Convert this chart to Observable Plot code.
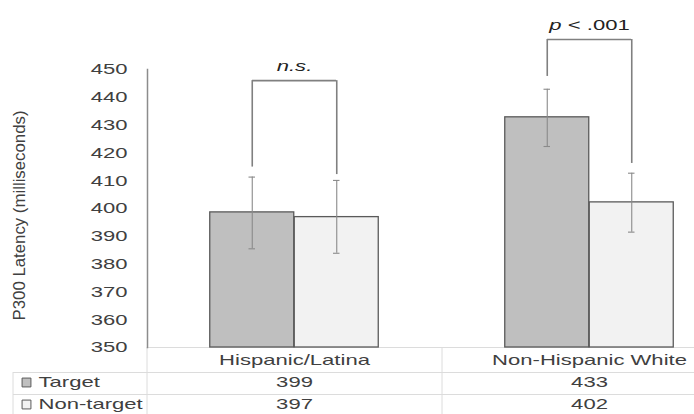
<!DOCTYPE html>
<html>
<head>
<meta charset="utf-8">
<script src="https://cdn.jsdelivr.net/npm/d3@7"></script>
<script src="https://cdn.jsdelivr.net/npm/@observablehq/plot@0.6"></script>
<style>
html, body { margin: 0; padding: 0; background: #fff; overflow: hidden; }
</style>
</head>
<body>
<div id="chart"></div>
<script>
// ---- data ----
const categories = ["Hispanic/Latina", "Non-Hispanic White"];
const seriesNames = ["Target", "Non-target"];
const targetMeans = [398.6, 432.8];
const nonTargetMeans = [396.9, 402.2];
const targetErrLow = [385.5, 422.3];
const targetErrHigh = [411.3, 442.9];
const nonTargetErrLow = [383.9, 391.5];
const nonTargetErrHigh = [410.1, 412.7];
const bracketTop = [446.0, 460.8];
const bracketLeftEnd = [414.9, 447.5];
const bracketRightEnd = [412.2, 416.2];
const bracketLabels = ["n.s.", "p < .001"];
const yTicks = [350, 360, 370, 380, 390, 400, 410, 420, 430, 440, 450];
const yLabel = "P300 Latency (milliseconds)";

// ---- tables built from the arrays ----
const targetRows = categories.map((c, i) => ({category: c, mean: targetMeans[i], lo: targetErrLow[i], hi: targetErrHigh[i]}));
const nonTargetRows = categories.map((c, i) => ({category: c, mean: nonTargetMeans[i], lo: nonTargetErrLow[i], hi: nonTargetErrHigh[i]}));
const brackets = categories.map((c, i) => ({category: c, top: bracketTop[i], left: bracketLeftEnd[i], right: bracketRightEnd[i], label: bracketLabels[i]}));
const fmt = d3.format(".0f");
const base = yTicks[0];

const half = 42.25;          // offset of each bar from the band centre
const colT = "#bfbfbf", colN = "#f2f2f2", barStroke = "#5a5a5a";
const errCol = "#8a8a8a", brCol = "#808080", gridCol = "#dcdcdc";

const svg = Plot.plot({
  width: 694,
  height: 414,
  marginLeft: 147,
  marginTop: 69,
  marginBottom: 67,
  marginRight: 0,
  style: {fontFamily: "'Liberation Sans', Arial, sans-serif", fontSize: "15px", color: "#404040", background: "white"},
  x: {type: "band", domain: categories, range: [147, 737], paddingInner: 0.7136, paddingOuter: 0.3568, axis: null},
  y: {domain: [350, 450], range: [347, 69], axis: null},
  marks: [
    // data table grid
    Plot.ruleY([base], {stroke: gridCol}),
    Plot.ruleY([base], {stroke: gridCol, dy: 25, insetLeft: -134}),
    Plot.ruleY([base], {stroke: gridCol, dy: 47, insetLeft: -134}),
    Plot.ruleX(categories, {x: d => d, dx: -147.5, insetTop: 278, insetBottom: -67, stroke: gridCol}),
    Plot.ruleX([categories[0]], {x: d => d, dx: -281.5, insetTop: 303, insetBottom: -67, stroke: gridCol}),
    // y axis
    Plot.frame({anchor: "left", stroke: "#8c8c8c", strokeWidth: 1.5}),
    Plot.axisY({ticks: yTicks, tickSize: 0, tickPadding: 20, label: null, tickFormat: d3.format("d")}),
    Plot.text([yLabel], {frameAnchor: "left", textAnchor: "middle", lineAnchor: "middle", dx: -128, dy: 7, rotate: -90, fontSize: 16}),
    // bars
    Plot.barY(targetRows, {x: "category", y1: () => base, y2: "mean", dx: -half, fill: colT, stroke: barStroke, strokeWidth: 1.3}),
    Plot.barY(nonTargetRows, {x: "category", y1: () => base, y2: "mean", dx: half, fill: colN, stroke: barStroke, strokeWidth: 1.3}),
    // error bars
    Plot.ruleX(targetRows, {x: "category", y1: "lo", y2: "hi", dx: -half, stroke: errCol, strokeWidth: 1.1}),
    Plot.ruleX(nonTargetRows, {x: "category", y1: "lo", y2: "hi", dx: half, stroke: errCol, strokeWidth: 1.1}),
    Plot.tickY(targetRows, {x: "category", y: "hi", dx: -half, insetLeft: 38.75, insetRight: 38.75, stroke: errCol, strokeWidth: 1.1}),
    Plot.tickY(targetRows, {x: "category", y: "lo", dx: -half, insetLeft: 38.75, insetRight: 38.75, stroke: errCol, strokeWidth: 1.1}),
    Plot.tickY(nonTargetRows, {x: "category", y: "hi", dx: half, insetLeft: 38.75, insetRight: 38.75, stroke: errCol, strokeWidth: 1.1}),
    Plot.tickY(nonTargetRows, {x: "category", y: "lo", dx: half, insetLeft: 38.75, insetRight: 38.75, stroke: errCol, strokeWidth: 1.1}),
    // significance brackets
    Plot.tickY(brackets, {x: "category", y: "top", stroke: brCol, strokeWidth: 1.6}),
    Plot.ruleX(brackets, {x: "category", y1: "top", y2: "left", dx: -half, stroke: brCol, strokeWidth: 1.6}),
    Plot.ruleX(brackets, {x: "category", y1: "top", y2: "right", dx: half, stroke: brCol, strokeWidth: 1.6}),
    Plot.text(brackets, {x: "category", y: "top", text: "label", dy: -14.5, fontStyle: "italic", fill: "#222"}),
    // data table text
    Plot.text(categories, {x: d => d, frameAnchor: "bottom", lineAnchor: "middle", dy: 13}),
    Plot.text(targetRows, {x: "category", text: d => fmt(d.mean), frameAnchor: "bottom", lineAnchor: "middle", dy: 35}),
    Plot.text(nonTargetRows, {x: "category", text: d => fmt(d.mean), frameAnchor: "bottom", lineAnchor: "middle", dy: 57}),
    Plot.dot([seriesNames[0]], {frameAnchor: "bottom-left", dx: -121, dy: 35, symbol: "square", r: 5, fill: colT, stroke: barStroke, strokeWidth: 1}),
    Plot.dot([seriesNames[1]], {frameAnchor: "bottom-left", dx: -121, dy: 57, symbol: "square", r: 5, fill: colN, stroke: barStroke, strokeWidth: 1}),
    Plot.text([seriesNames[0]], {text: d => d, frameAnchor: "bottom-left", dx: -109, dy: 35, textAnchor: "start", lineAnchor: "middle"}),
    Plot.text([seriesNames[1]], {text: d => d, frameAnchor: "bottom-left", dx: -109, dy: 57, textAnchor: "start", lineAnchor: "middle"})
  ]
});
document.getElementById("chart").appendChild(svg);

// "p" italic, the rest upright
svg.querySelectorAll("text").forEach(t => {
  if (t.textContent === bracketLabels[1]) {
    const [p, ...rest] = bracketLabels[1].split(" ");
    t.textContent = "";
    const a = document.createElementNS("http://www.w3.org/2000/svg", "tspan");
    a.textContent = p;
    const b = document.createElementNS("http://www.w3.org/2000/svg", "tspan");
    b.setAttribute("font-style", "normal");
    b.textContent = " " + rest.join(" ");
    t.appendChild(a); t.appendChild(b);
  }
});
// the reference is stretched horizontally: widen the horizontal texts
const STRETCH = 1.47;
svg.querySelectorAll("text").forEach(t => {
  const len = t.getComputedTextLength();
  if (t.textContent === yLabel) {
    t.setAttribute("textLength", 210);
  } else {
    t.setAttribute("textLength", (len * STRETCH).toFixed(1));
  }
  t.setAttribute("lengthAdjust", "spacingAndGlyphs");
});
</script>
</body>
</html>
